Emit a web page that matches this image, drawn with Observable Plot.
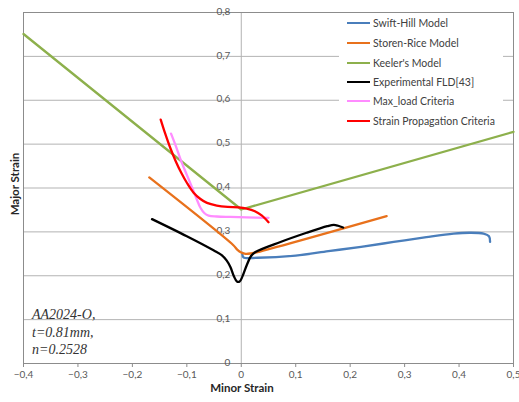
<!DOCTYPE html>
<html>
<head>
<meta charset="utf-8">
<script src="https://cdn.jsdelivr.net/npm/d3@7"></script>
<script src="https://cdn.jsdelivr.net/npm/@observablehq/plot@0.6"></script>
<style>
  body { margin: 0; background: #fff; }
  #wrap { position: relative; width: 519px; height: 402px; font-family: Lato, "Open Sans", sans-serif; }
  #wrap svg { position: absolute; left: 0; top: 0; }
  .legend { position: absolute; left: 339px; top: 14px; width: 164px; height: 116px; background: #fff; }
  .legend .row { position: absolute; left: 8px; height: 14px; display: flex; align-items: center; font-size: 10.5px; color: #404040; white-space: nowrap; }
  .legend .swatch { width: 23px; height: 2px; margin-right: 3px; }
  .note { position: absolute; left: 32px; top: 306px; font-family: "Liberation Serif", "Times New Roman", serif; font-style: italic; font-size: 14px; line-height: 17.5px; color: #333; }
  .ytitle { position: absolute; left: 14px; top: 184px; transform: translate(-50%, -50%) rotate(-90deg); font-weight: bold; font-size: 11.5px; color: #262626; white-space: nowrap; }
  .xtitle { position: absolute; left: 242px; top: 387px; transform: translate(-50%, -50%); font-weight: bold; font-size: 11.5px; color: #262626; white-space: nowrap; }
</style>
</head>
<body>
<div id="wrap"></div>
<script>
// Axis ticks
const xTicks = [-0.4, -0.3, -0.2, -0.1, 0, 0.1, 0.2, 0.3, 0.4, 0.5];
const yTicks = [0, 0.1, 0.2, 0.3, 0.4, 0.5, 0.6, 0.7, 0.8];

// Series names and colours
const seriesNames = ["Swift-Hill Model", "Storen-Rice Model", "Keeler's Model",
  "Experimental FLD[43]", "Max_load Criteria", "Strain Propagation Criteria"];
const seriesColors = ["#4A7EBB", "#E8711C", "#8DB04C", "#000000", "#FF8CFF", "#FF0000"];

// Swift-Hill model
const swiftHillX = [0.002, 0.004, 0.03, 0.1, 0.16, 0.22, 0.28, 0.34, 0.39, 0.42, 0.445, 0.455, 0.457];
const swiftHillY = [0.252, 0.242, 0.241, 0.246, 0.256, 0.266, 0.277, 0.288, 0.296, 0.298, 0.296, 0.290, 0.277];

// Storen-Rice model
const storenRiceX = [-0.169, -0.015, -0.007, 0, 0.008, 0.018, 0.03, 0.267];
const storenRiceY = [0.424, 0.270, 0.259, 0.253, 0.250, 0.251, 0.254, 0.336];

// Keeler's model
const keelerX = [-0.4, 0, 0.5];
const keelerY = [0.751, 0.351, 0.528];

// Experimental FLD [43]
const expX = [-0.164, -0.1, -0.051, -0.036, -0.027, -0.02, -0.014, -0.008, -0.003, 0.002, 0.01, 0.018, 0.026, 0.072, 0.12, 0.158, 0.17, 0.178, 0.187];
const expY = [0.329, 0.290, 0.258, 0.247, 0.235, 0.220, 0.200, 0.187, 0.187, 0.198, 0.224, 0.245, 0.254, 0.277, 0.298, 0.313, 0.316, 0.314, 0.310];

// Max_load criteria
const maxLoadX = [-0.129, -0.12, -0.11, -0.1, -0.09, -0.082, -0.075, -0.068, -0.06, -0.045, -0.02, 0.01, 0.05];
const maxLoadY = [0.524, 0.495, 0.460, 0.430, 0.400, 0.375, 0.355, 0.343, 0.337, 0.335, 0.334, 0.333, 0.332];

// Strain propagation criteria
const strainPropX = [-0.148, -0.14, -0.13, -0.12, -0.11, -0.1, -0.088, -0.075, -0.063, -0.045, -0.025, -0.005, 0.01, 0.025, 0.038, 0.05];
const strainPropY = [0.556, 0.525, 0.490, 0.460, 0.434, 0.412, 0.390, 0.375, 0.366, 0.360, 0.357, 0.356, 0.353, 0.347, 0.337, 0.322];

const seriesXs = [swiftHillX, storenRiceX, keelerX, expX, maxLoadX, strainPropX];
const seriesYs = [swiftHillY, storenRiceY, keelerY, expY, maxLoadY, strainPropY];

const toRows = (xs, ys) => xs.map((x, i) => ({x, y: ys[i]}));
const comma = d => d3.format(".1~f")(d).replace(".", ",");

const lineMarks = seriesNames.map((name, i) =>
  Plot.line(toRows(seriesXs[i], seriesYs[i]), {
    x: "x", y: "y",
    stroke: seriesColors[i],
    strokeWidth: 2.3,
    curve: i === 2 ? "linear" : "catmull-rom"
  })
);

const chart = Plot.plot({
  width: 519,
  height: 402,
  marginLeft: 23,
  marginRight: 6,
  marginTop: 12,
  marginBottom: 39,
  style: { fontFamily: "Lato, 'Open Sans', sans-serif", background: "transparent" },
  x: { domain: [-0.4, 0.5] },
  y: { domain: [0, 0.8], axis: null },
  marks: [
    Plot.ruleY(yTicks, { stroke: "#b3b3b3", strokeWidth: 1 }),
    Plot.ruleX([0], { stroke: "#b3b3b3", strokeWidth: 1 }),
    Plot.frame({ stroke: "#8c8c8c", strokeWidth: 1 }),
    Plot.axisX({
      ticks: xTicks, tickFormat: comma, tickSize: 4, tickPadding: 3,
      fontSize: 10, color: "#595959", stroke: "#8c8c8c", label: null
    }),
    Plot.text(yTicks, {
      x: () => 0, y: d => d, text: comma,
      textAnchor: "end", dx: -11, dy: -1, fontSize: 10, fill: "#595959"
    }),
    ...lineMarks
  ]
});

const wrap = document.getElementById("wrap");
wrap.appendChild(chart);

// Legend box
const legend = document.createElement("div");
legend.className = "legend";
const rowTops = [2, 22, 42, 61, 80, 100];
seriesNames.forEach((name, i) => {
  const row = document.createElement("div");
  row.className = "row";
  row.style.top = rowTops[i] + "px";
  const sw = document.createElement("span");
  sw.className = "swatch";
  sw.style.background = seriesColors[i];
  const label = document.createElement("span");
  label.textContent = name;
  row.appendChild(sw);
  row.appendChild(label);
  legend.appendChild(row);
});
wrap.appendChild(legend);

// Material annotation
const note = document.createElement("div");
note.className = "note";
note.innerHTML = "AA2024-O,<br>t=0.81mm,<br>n=0.2528";
wrap.appendChild(note);

// Axis titles
const yt = document.createElement("div");
yt.className = "ytitle";
yt.textContent = "Major Strain";
wrap.appendChild(yt);
const xt = document.createElement("div");
xt.className = "xtitle";
xt.textContent = "Minor Strain";
wrap.appendChild(xt);
</script>
</body>
</html>
